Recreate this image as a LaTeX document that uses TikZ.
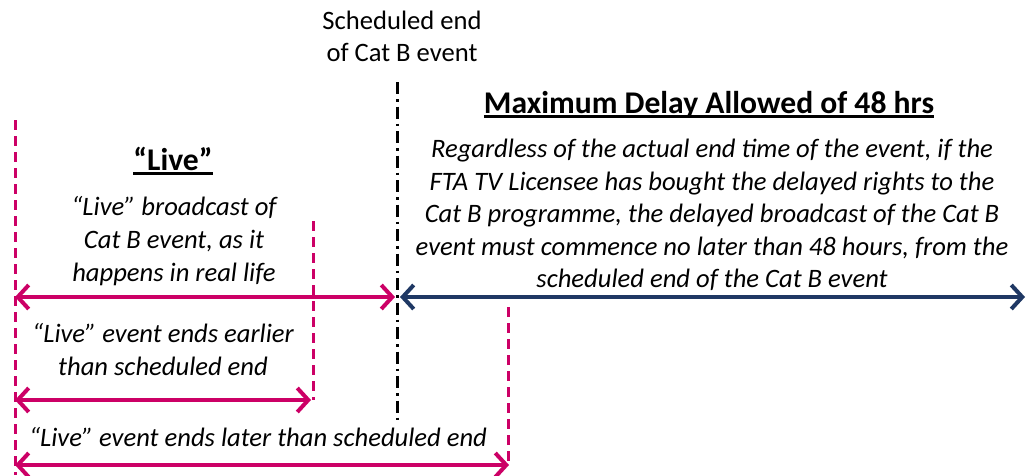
\documentclass[tikz,border=0pt]{standalone}
\usepackage{fontspec}
\setmainfont{Carlito}
\usetikzlibrary{arrows.meta}
\definecolor{pinkc}{RGB}{204,0,102}
\definecolor{navyc}{RGB}{31,56,100}
\tikzset{
  body/.style={font=\fontsize{26.6}{33}\selectfont\itshape, align=center, inner sep=0pt},
  plain/.style={font=\fontsize{26.6}{32}\selectfont, align=center, inner sep=0pt},
  title/.style={font=\fontsize{31.6}{36}\selectfont\bfseries, inner sep=0pt},
  tick/.style={pinkc, line width=3pt, dash pattern=on 10pt off 6pt},
  schedline/.style={black, line width=3pt, dash pattern=on 12pt off 5pt on 2.5pt off 5pt},
  span/.style={line width=4pt, {Straight Barb[length=11pt,width=24pt]}-{Straight Barb[length=11pt,width=24pt]}},
}
\begin{document}
\begin{tikzpicture}[x=1pt,y=-1pt]
\useasboundingbox (0,0) rectangle (1027,475);
% vertical markers
\coordinate (s1) at (397,82);
\coordinate (s2) at (397,423);
\coordinate (p1) at (15,120);
\coordinate (p2) at (15,475);
\coordinate (q1) at (313,221);
\coordinate (q2) at (313,400);
\coordinate (r1) at (508,307);
\coordinate (r2) at (508,467);
\draw[schedline] (s1) -- (s2);
\draw[tick] (p1) -- (p2);
\draw[tick] (q1) -- (q2);
\draw[tick] (r1) -- (r2);
% arrow endpoints
\coordinate (a1) at (15,297);
\coordinate (a2) at (395,297);
\coordinate (b1) at (400,297);
\coordinate (b2) at (1025,297);
\coordinate (c1) at (15,400);
\coordinate (c2) at (311,400);
\coordinate (d1) at (15,465);
\coordinate (d2) at (509,465);
\draw[span, pinkc] (a1) -- (a2);
\draw[span, navyc] (b1) -- (b2);
\draw[span, pinkc] (c1) -- (c2);
\draw[span, pinkc] (d1) -- (d2);
% texts
\node[plain] (sched) at (402,36) {Scheduled end\\of Cat B event};
\node[title, anchor=base] (maxt) at (709,113) {Maximum Delay Allowed of 48 hrs};
\draw[line width=2.4pt] ([yshift=-3.5pt]maxt.base west) -- ([yshift=-3.5pt]maxt.base east);
\node[title, anchor=base] (livet) at (173,170) {“Live”};
\draw[line width=2.4pt] ([yshift=-3.5pt]livet.base west) -- ([yshift=-3.5pt]livet.base east);
\node[body] (livebody) at (174,241) {“Live” broadcast of\\Cat B event, as it\\happens in real life};
\node[body, font=\fontsize{26.6}{32.5}\selectfont\itshape] (maxbody) at (712,215) {Regardless of the actual end time of the event, if the\\FTA TV Licensee has bought the delayed rights to the\\Cat B programme, the delayed broadcast of the Cat B\\event must commence no later than 48 hours, from the\\scheduled end of the Cat B event};
\node[body] (early) at (163,350) {“Live” event ends earlier\\than scheduled end};
\node[body] (late) at (258,437) {“Live” event ends later than scheduled end};
\end{tikzpicture}
\end{document}
